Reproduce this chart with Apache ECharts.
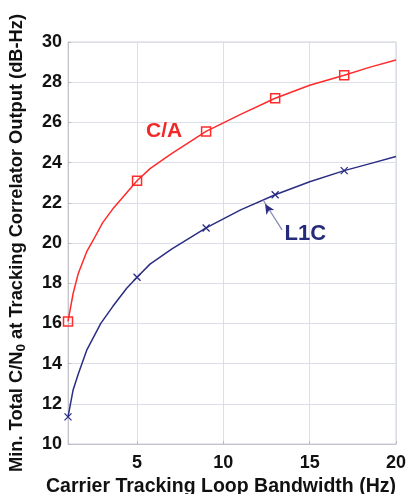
<!DOCTYPE html>
<html>
<head>
<meta charset="utf-8">
<script src="https://cdn.jsdelivr.net/npm/echarts@6/dist/echarts.min.js"></script>
<style>
html,body{margin:0;padding:0;background:#fff;}
#chart{width:409px;height:494px;}
</style>
</head>
<body>
<div id="chart"></div>
<script>
// ---- data ----
const caX = [1, 1.3, 1.6, 2.1, 2.5, 3, 3.6, 4.4, 5, 5.75, 7, 9, 11, 13, 15, 17, 18.5, 20];
const caY = [16.1, 17.5, 18.5, 19.6, 20.2, 21.0, 21.7, 22.5, 23.1, 23.7, 24.45, 25.55, 26.4, 27.2, 27.85, 28.35, 28.75, 29.1];
const caMarkerX = [1, 5, 9, 13, 17];

const l1cX = [1, 1.3, 1.6, 2.1, 2.9, 3.6, 4.4, 5, 5.75, 7, 9, 11, 13, 15, 17, 18.5, 20];
const l1cY = [11.35, 12.7, 13.5, 14.7, 16.0, 16.85, 17.75, 18.3, 18.95, 19.7, 20.75, 21.65, 22.4, 23.05, 23.6, 23.95, 24.3];
const l1cMarkerX = [1, 5, 9, 13, 17];

const xTicks = [5, 10, 15, 20];
const yMin = 10, yMax = 30, yStep = 2;
const xMin = 1, xMax = 20;

const caLabelAt = [6.57, 25.55];
const l1cLabelAt = [14.75, 20.45];
const arrowFrom = [13.4, 20.65];
const arrowTo = [12.3, 22.14];

// ---- build ----
const RED = '#ff2b2b';
const BLUE = '#2b2d84';
const FONT = 'Liberation Sans, Arial, sans-serif';

function build(xs, ys, markers, sym) {
  return xs.map((x, i) => {
    const item = { value: [x, ys[i]] };
    if (markers.indexOf(x) >= 0) { Object.assign(item, sym); }
    else { item.symbol = 'none'; }
    return item;
  });
}

const caData = build(caX, caY, caMarkerX, { symbol: 'rect', symbolSize: 9 });
const l1cData = build(l1cX, l1cY, l1cMarkerX, { symbol: 'path://M0,0L10,10M10,0L0,10', symbolSize: 7 });

const chart = echarts.init(document.getElementById('chart'), null, { renderer: 'canvas' });
chart.setOption({
  animation: false,
  backgroundColor: '#fff',
  grid: { left: 68, right: 13, top: 42, bottom: 50, show: true, borderColor: '#cfd0d8', borderWidth: 1,
          containLabel: false, outerBoundsMode: 'none' },
  xAxis: {
    type: 'value', min: xMin, max: xMax,
    name: 'Carrier Tracking Loop Bandwidth (Hz)',
    nameLocation: 'middle', nameGap: 32,
    nameTextStyle: { fontFamily: FONT, fontWeight: 'bold', fontSize: 19.5, color: '#111', padding: [0, 22, 0, 0] },
    axisLine: { show: true, lineStyle: { color: '#c4c5cc' } },
    axisTick: { show: true, inside: true, length: 3, lineStyle: { color: '#b8b9c2' }, customValues: xTicks },
    axisLabel: { customValues: xTicks, margin: 10, fontFamily: FONT, fontWeight: 'bold', fontSize: 18, color: '#111' },
    splitLine: { show: true, lineStyle: { color: '#dcdfe8', width: 1 } }
  },
  yAxis: {
    type: 'value', min: yMin, max: yMax, interval: yStep,
    name: 'Min. Total C/N{sub|0} at Tracking Correlator Output (dB-Hz)',
    nameLocation: 'middle', nameGap: 40, nameRotate: 90,
    nameTextStyle: {
      fontFamily: FONT, fontWeight: 'bold', fontSize: 18.3, color: '#111', lineHeight: 22,
      rich: { sub: { fontFamily: FONT, fontWeight: 'bold', fontSize: 13.5, color: '#111', verticalAlign: 'bottom', lineHeight: 22 } }
    },
    axisLine: { show: true, lineStyle: { color: '#c4c5cc' } },
    axisTick: { show: true, inside: true, length: 3, lineStyle: { color: '#b8b9c2' } },
    axisLabel: { margin: 6, fontFamily: FONT, fontWeight: 'bold', fontSize: 18, color: '#111' },
    splitLine: { show: true, lineStyle: { color: '#dcdfe8', width: 1 } }
  },
  series: [
    {
      name: 'C/A', type: 'line', data: caData, smooth: false,
      symbol: 'none', showSymbol: true,
      lineStyle: { color: RED, width: 1.5 },
      itemStyle: { color: 'rgba(255,255,255,0)', borderColor: RED, borderWidth: 1.5 },
      z: 3,
      markPoint: {
        symbol: 'circle', symbolSize: 0, silent: true,
        data: [{ coord: caLabelAt, label: { show: true, formatter: 'C/A', position: 'inside', fontFamily: FONT, fontWeight: 'bold', fontSize: 21, color: '#f02828' } }]
      }
    },
    {
      name: 'L1C', type: 'line', data: l1cData, smooth: false,
      symbol: 'none', showSymbol: true,
      lineStyle: { color: BLUE, width: 1.5 },
      itemStyle: { color: BLUE, borderColor: BLUE, borderWidth: 1.3 },
      z: 3,
      markLine: {
        silent: true, symbol: ['none', 'none'],
        lineStyle: { color: '#8286b6', width: 1.2, type: 'solid' },
        label: { show: false },
        data: [[{ coord: arrowFrom }, { coord: arrowTo }]]
      },
      markPoint: {
        silent: true,
        data: [
          { coord: l1cLabelAt, symbol: 'circle', symbolSize: 0,
            label: { show: true, formatter: 'L1C', position: 'inside', fontFamily: FONT, fontWeight: 'bold', fontSize: 22, color: '#262a7a' } },
          { coord: arrowTo, symbol: 'arrow', symbolSize: [7, 10], symbolRotate: 32, symbolOffset: [2, 4],
            itemStyle: { color: BLUE }, label: { show: false } }
        ]
      }
    }
  ]
});
</script>
</body>
</html>
